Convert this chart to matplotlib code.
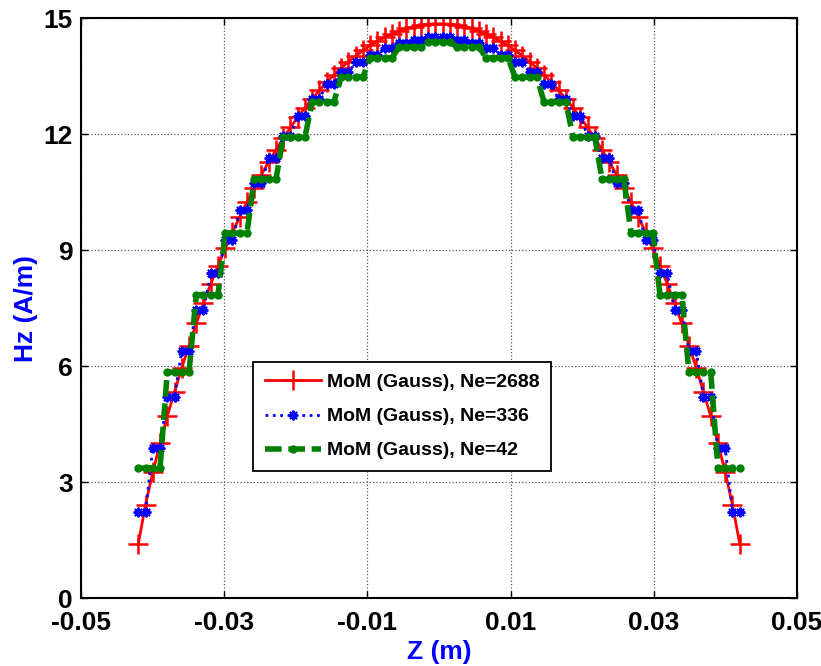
import numpy as np
import matplotlib
matplotlib.use("Agg")
import matplotlib.pyplot as plt

# sample positions along z (m), 84 points between the ends
z_pts = np.linspace(-0.042, 0.042, 84)

# Ne=2688 values, left half (mirror gives right half)
red_half = [1.40, 2.41, 3.25, 4.00, 4.70, 5.33, 5.95, 6.53, 7.10, 7.62,
            8.12, 8.59, 9.04, 9.46, 9.86, 10.24, 10.60, 10.95, 11.28, 11.59,
            11.89, 12.17, 12.43, 12.68, 12.91, 13.13, 13.34, 13.53, 13.71, 13.87,
            14.02, 14.16, 14.29, 14.40, 14.50, 14.59, 14.66, 14.73, 14.77, 14.81,
            14.84, 14.85]
# Ne=336 values, one per pair of points, left half
blue_half = [2.23, 3.88, 5.20, 6.40, 7.45, 8.40, 9.25, 10.03, 10.73, 11.37,
             11.95, 12.46, 12.90, 13.30, 13.60, 13.85, 14.05, 14.22, 14.35, 14.43,
             14.50]
# Ne=42 values, one per group of four points, left half + centre
green_half = [3.36, 5.84, 7.84, 9.44, 10.83, 11.92, 12.83, 13.47, 13.97, 14.25]
green_mid = [14.38]

labels = ['MoM (Gauss), Ne=2688', 'MoM (Gauss), Ne=336', 'MoM (Gauss), Ne=42']
xticks = [-0.05, -0.03, -0.01, 0.01, 0.03, 0.05]
yticks = [0, 3, 6, 9, 12, 15]

red = np.concatenate([red_half, red_half[::-1]])
blue = np.repeat(np.concatenate([blue_half, blue_half[::-1]]), 2)
green = np.repeat(np.concatenate([green_half, green_mid, green_half[::-1]]), 4)

plt.rcParams['font.family'] = ['Liberation Sans', 'DejaVu Sans']

fig = plt.figure(figsize=(8.21, 6.66), dpi=100)
ax = fig.add_axes([81/821, 68/666, 716/821, 580/666])

ax.plot(z_pts, red, color='#ff0000', lw=2.0, marker='+', ms=14, mew=1.8,
        label=labels[0])
ax.plot(z_pts, blue, color='#0000ff', lw=2.0, ls=':', marker=(8, 2, 0), ms=7,
        mew=1.4, label=labels[1])
ax.plot(z_pts, green, color='#008000', lw=4.0, ls=(0, (3.0, 1.2)), marker='o',
        ms=5, mec='#008000', label=labels[2])

ax.set_xlim(-0.05, 0.05)
ax.set_ylim(0, 15)
ax.set_xticks(xticks)
ax.set_yticks(yticks)
ax.set_xticklabels(['%g' % v for v in xticks], fontsize=19, fontweight='bold')
ax.set_yticklabels(['%g' % v for v in yticks], fontsize=19, fontweight='bold')
ax.tick_params(direction='in', top=True, right=True, length=5, width=1)
ax.tick_params(axis='x', pad=9)
ax.tick_params(axis='y', pad=6)
ax.grid(True, color='0.35', ls=':', lw=0.9)
for s in ax.spines.values():
    s.set_linewidth(1.5)

ax.set_xlabel('Z (m)', fontsize=19, fontweight='bold', color='#0000ff',
              labelpad=4)
ax.set_ylabel('Hz (A/m)', fontsize=19, fontweight='bold', color='#0000ff',
              labelpad=4)

leg = ax.legend(loc='upper left', bbox_to_anchor=(0.240, 0.407), borderaxespad=0,
                fancybox=False, framealpha=1, edgecolor='k', handlelength=2.9,
                handletextpad=0.3, labelspacing=0.85, borderpad=0.6,
                prop={'weight': 'bold', 'size': 14})
leg.get_frame().set_linewidth(1.3)

fig.savefig('out.png', dpi=100)
